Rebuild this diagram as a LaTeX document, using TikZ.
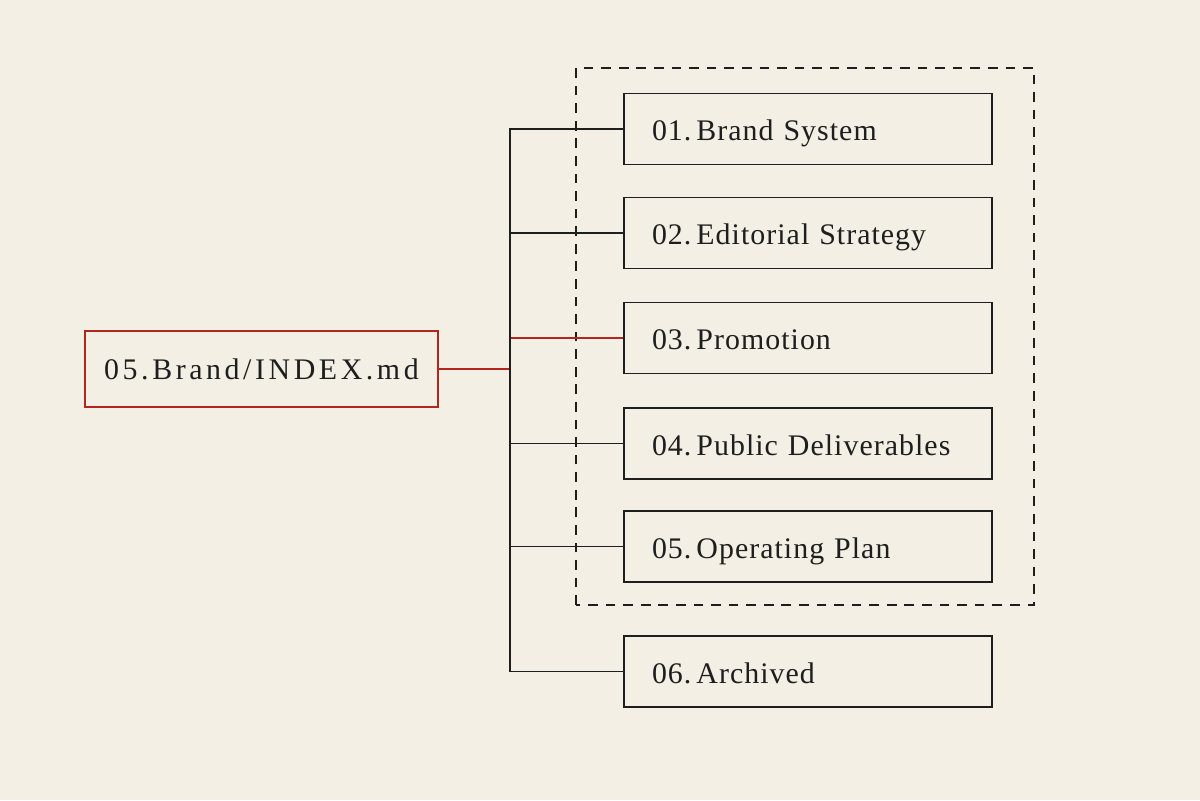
\documentclass[tikz,border=0pt]{standalone}
\usepackage{fontspec}
\setmainfont{Liberation Serif}
\usetikzlibrary{positioning}

\definecolor{paper}{HTML}{F3EFE4}
\definecolor{inkred}{HTML}{B3261E}
\definecolor{ink}{HTML}{1E1E1E}

\tikzset{
    sectionbox/.style = {draw=ink, line width=1.1pt, minimum height=1.42cm,
        text width=6.24cm, align=left, inner xsep=0.56cm,
        text height=0.52cm, text depth=0.04cm,
        font=\fontsize{17}{20}\selectfont\addfontfeature{LetterSpace=3.5}, text=ink},
    indexbox/.style = {draw=inkred, line width=1.1pt, minimum height=1.52cm,
        minimum width=7.06cm, text=ink, text height=0.5cm, text depth=0.06cm,
        font=\fontsize{17}{20}\selectfont\addfontfeature{LetterSpace=12}},
    link/.style = {draw=ink, line width=0.8pt},
    redlink/.style = {draw=inkred, line width=0.8pt},
    groupframe/.style = {draw=ink, line width=0.8pt, dash pattern=on 5.5pt off 4.5pt}
}

\begin{document}
\begin{tikzpicture}
    \fill [paper] (0,0) rectangle (24,16);
    \useasboundingbox (0,0) rectangle (24,16);

    % dashed group round 01--05
    \draw [groupframe] (11.52,3.9) rectangle (20.68,14.64);

    \node [indexbox] (idx) at (5.23,8.62) {05.Brand/INDEX.md};

    \node [sectionbox] (b1) at (16.16,13.42) {01.\,Brand System};
    \node [sectionbox] (b2) at (16.16,11.34) {02.\,Editorial Strategy};
    \node [sectionbox] (b3) at (16.16,9.24) {03.\,Promotion};
    \node [sectionbox] (b4) at (16.16,7.13) {04.\,Public Deliverables};
    \node [sectionbox] (b5) at (16.16,5.07) {05.\,Operating Plan};
    \node [sectionbox] (b6) at (16.16,2.57) {06.\,Archived};

    \coordinate (bus) at (10.2,0);

    \draw [redlink] (idx.east) -- (idx.east -| bus);
    \draw [redlink] (b3.west) -- (b3.west -| bus);
    \draw [link] (b1.west) -- (b1.west -| bus) -- (b6.west -| bus) -- (b6.west);
    \foreach \b in {b2,b4,b5}
        \draw [link] (\b.west) -- (\b.west -| bus);
\end{tikzpicture}
\end{document}
